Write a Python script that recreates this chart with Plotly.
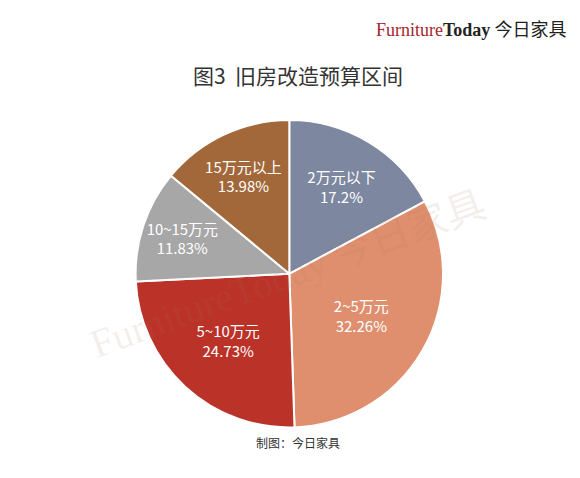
import plotly.graph_objects as go

labels = ["2万元以下", "2~5万元", "5~10万元", "10~15万元", "15万元以上"]
values = [17.2, 32.26, 24.73, 11.83, 13.98]
colors = ["#7d879f", "#df8f6e", "#bb3229", "#a7a7a7", "#a2683a"]

fig = go.Figure()
fig.add_trace(go.Pie(
    labels=labels, values=values, sort=False, direction="clockwise", rotation=0,
    marker=dict(colors=colors, line=dict(color="white", width=2)),
    customdata=[f"{v}%" for v in values],
    texttemplate="%{label}<br>%{customdata}", textposition="inside",
    insidetextorientation="horizontal",
    textfont=dict(color="white", size=15, family="Noto Sans CJK SC"),
    domain=dict(x=[0.22, 0.75], y=[0.118, 0.77]),
    showlegend=False, hoverinfo="skip",
))

font = "Noto Sans CJK SC"
fig.add_annotation(x=0.5, y=0.895, xref="paper", yref="paper", showarrow=False,
                   text="图3  旧房改造预算区间", font=dict(size=21, color="#333", family=font))
fig.add_annotation(x=0.5, y=0.068, xref="paper", yref="paper", showarrow=False,
                   text="制图：今日家具", font=dict(size=12, color="#333", family=font))
fig.add_annotation(x=0.965, y=0.99, xref="paper", yref="paper", showarrow=False, xanchor="right",
                   text="<span style='font-family:Liberation Serif;color:#a3262b'>Furniture</span>"
                        "<b><span style='font-family:Liberation Serif;color:#222'>Today</span></b> 今日家具",
                   font=dict(size=18, color="#222", family=font))
fig.add_annotation(x=0.48, y=0.45, xref="paper", yref="paper", showarrow=False, textangle=-20,
                   text="<span style='font-family:Liberation Serif'>FurnitureToday</span> 今日家具",
                   font=dict(size=40, color="rgba(170,120,90,0.12)", family=font))

fig.update_layout(width=580, height=478, margin=dict(l=0, r=0, t=0, b=0),
                  paper_bgcolor="white", plot_bgcolor="white")
fig.write_html("out.html")
